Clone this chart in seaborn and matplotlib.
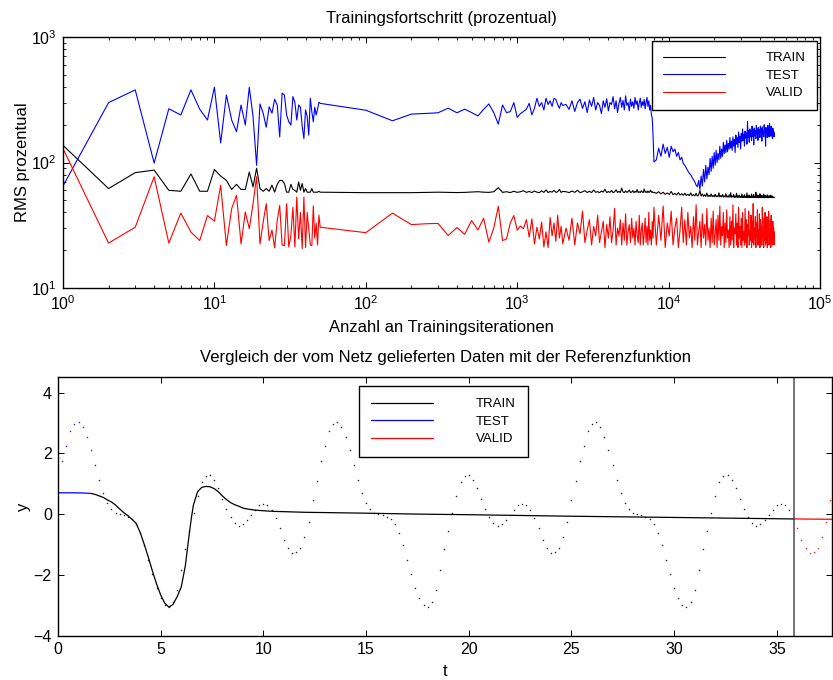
import numpy as np
import pandas as pd
import matplotlib
matplotlib.use("Agg")
import matplotlib.pyplot as plt
import seaborn as sns

# ---------------------------------------------------------------- data
# iteration counter of the logged RMS values
iter_single = list(range(1, 51))
iter_coarse = list(range(100, 2001, 50))
iter_mid = list(range(2100, 8001, 100))
iter_late = list(range(8300, 50001, 300))

train_rms = [
    137, 62, 83, 87, 60, 59, 81, 59, 59, 88,
    78, 72, 61, 67, 61, 61, 84, 64, 90, 62,
    59, 62, 59, 66, 58, 67, 72, 72, 68, 58,
    58, 67, 61, 60, 58, 70, 60, 68, 58, 62,
    58, 58, 58, 62, 58, 58, 58, 58, 59, 58,
    57.5, 57.5, 57.5, 57.8, 58, 57.8, 57.6, 57.8, 58.2, 58.5,
    58, 57.8, 58.5, 63, 57.8, 58.5, 57.6, 59, 57.8, 58.5,
    59.5, 57.8, 58.8, 57.6, 59.2, 58, 57.5, 59.5, 57.8, 60.5,
    57.6, 58.8, 58, 60, 57.8, 58.5, 61, 57.8, 58.8,
    58.5, 57.6, 59.2, 57.8, 60.1, 57.5, 58.4, 59.6, 57.7, 58.9,
    57.6, 60.4, 57.9, 58.6, 57.5, 59.3, 58.1, 61.2, 57.6, 58.7,
    57.8, 59.8, 57.5, 58.4, 60.6, 57.7, 58.9, 57.6, 62.5, 58.2,
    57.6, 59.4, 57.8, 58.6, 60.3, 57.6, 58.1, 59.7, 57.5, 58.8,
    58.0, 60.9, 57.7, 58.5, 57.6, 59.5, 58.2, 57.6, 61.5, 57.9,
    58.6, 57.6, 59.2, 57.8, 58.4, 60.2, 57.9, 58.6, 57.5, 57.9,
    56.8, 58.5, 56.2, 57.9, 55.8, 57.2, 55.6, 58.8, 55.4, 56.7,
    55.2, 57.5, 55.0, 56.4, 54.8, 56.9, 54.6, 55.8, 54.5, 57.2,
    54.3, 55.6, 54.2, 56.8, 54.0, 55.2, 59.8, 54.0, 56.1, 53.8,
    55.4, 53.7, 57.0, 53.6, 54.8, 53.5, 56.2, 53.5, 54.6, 53.4,
    55.9, 53.3, 54.4, 53.3, 57.3, 53.2, 54.5, 53.2, 55.6, 53.1,
    54.2, 53.1, 56.4, 53.0, 54.0, 53.0, 55.2, 52.9, 57.5, 52.9,
    54.1, 52.9, 55.7, 52.8, 53.9, 52.8, 56.8, 52.8, 54.2, 52.8,
    55.0, 52.7, 53.8, 52.7, 56.2, 52.7, 54.0, 52.7, 55.4, 52.7,
    53.6, 52.6, 57.2, 52.6, 54.3, 52.6, 55.0, 52.6, 53.7, 52.6,
    56.0, 52.6, 54.0, 52.6, 55.5, 52.5, 53.6, 52.5, 58.0, 52.5,
    54.2, 52.5, 55.1, 52.5, 53.5, 52.5, 56.3, 52.5, 53.9, 52.5,
    54.8, 52.5, 53.4, 52.5, 55.9, 52.5, 53.8, 52.5, 54.6, 52.5,
    53.3, 52.5, 55.2, 52.5, 53.7, 52.5, 54.4, 52.5, 53.2, 52.5,
    54.9, 52.5, 53.6, 52.5, 54.0, 52.5, 53.1, 52.5, 52.8, 52.5,
]

test_rms = [
    65, 300, 379, 99, 268, 239, 379, 266, 218, 398,
    143, 345, 218, 176, 287, 199, 398, 232, 95, 293,
    247, 191, 278, 247, 319, 287, 160, 357, 345, 239,
    211, 199, 335, 302, 218, 287, 276, 195, 155, 263,
    232, 165, 325, 254, 211, 276, 239, 266, 302, 296,
    261, 215, 243, 246, 249, 271, 249, 266, 250, 235,
    265, 293, 250, 202, 287, 250, 254, 300, 229, 245,
    255, 266, 296, 240, 270, 325, 280, 300, 262, 325,
    290, 310, 280, 325, 318, 290, 270, 300, 285,
    290, 265, 310, 255, 300, 320, 270, 305, 250, 315,
    280, 330, 262, 300, 285, 245, 310, 275, 322, 258,
    300, 290, 335, 268, 310, 250, 295, 330, 275, 312,
    262, 340, 285, 300, 258, 320, 280, 305, 270, 330,
    290, 310, 262, 300, 325, 275, 305, 285, 318, 268,
    300, 330, 280, 310, 262, 285, 240, 225, 160, 101,
    105, 130, 112, 140, 118, 132, 110, 135, 122, 128,
    112, 120, 105, 110, 98, 95, 90, 86, 82, 80,
    76, 73, 70, 66, 64, 72, 61, 78, 65, 88,
    70, 95, 74, 92, 80, 108, 85, 112, 90, 120,
    95, 125, 100, 118, 105, 135, 108, 128, 112, 145,
    118, 138, 120, 150, 122, 142, 128, 158, 130, 148,
    125, 160, 135, 152, 120, 165, 140, 158, 132, 175,
    145, 162, 128, 170, 148, 185, 150, 168, 135, 178,
    155, 172, 140, 212, 158, 180, 145, 185, 160, 178,
    150, 195, 162, 182, 138, 188, 165, 180, 155, 198,
    168, 185, 150, 190, 170, 182, 158, 195, 172, 186,
    148, 192, 168, 180, 160, 200, 175, 188, 135, 190,
    170, 185, 158, 198, 172, 182, 160, 205, 175, 186,
    162, 195, 170, 180, 155, 188, 168, 178, 160, 172,
]

valid_rms = [
    129, 22.8, 30.5, 77, 22.8, 39.5, 27.9, 23.9, 37.8, 34.1,
    65.8, 21.8, 42.9, 54.7, 22.4, 40.4, 29.7, 47, 77, 22.4,
    33.5, 47, 23.9, 28.9, 20.9, 34.5, 45.5, 22, 21.8, 47,
    21.2, 26.2, 44, 21.2, 53, 24.6, 40, 20.6, 53, 21,
    40, 29.7, 22, 21.8, 45, 25, 33, 22, 38, 30.5,
    27.6, 39.5, 32.0, 32.5, 32.7, 26.2, 30.3, 26.8, 34.5, 29.0,
    36.0, 23.2, 30.0, 44.7, 23.9, 24.6, 33.0, 37.8, 28.9, 31.2,
    29.7, 35.0, 25.4, 35.5, 22.4, 30.5, 24.6, 33.5, 21.2, 28.0,
    21.0, 36.5, 26.0, 33.0, 23.5, 38.0, 25.0, 31.0, 22.5,
    30, 24, 36, 22, 33, 27, 41, 23, 29, 35,
    22, 31, 26, 38, 23, 28, 34, 21, 32, 25,
    37, 23, 29, 43, 22, 30, 26, 35, 22, 33,
    24, 39, 22, 28, 32, 23, 36, 25, 30, 22,
    34, 26, 23, 38, 22, 29, 33, 22, 27, 36,
    23, 31, 22, 40, 24, 29, 22, 34, 25, 44,
    22, 38, 24, 45, 21, 33, 26, 41, 22, 30,
    36, 21, 29, 44, 23, 35, 22, 40, 25, 31,
    21, 37, 24, 46, 22, 28, 34, 21, 39, 25,
    32, 22, 43, 24, 30, 21, 36, 23, 41, 22,
    27, 35, 21, 38, 24, 45, 22, 31, 26, 40,
    21, 33, 23, 42, 25, 29, 21, 37, 22, 34,
    24, 46, 21, 30, 27, 39, 22, 33, 21, 44,
    25, 31, 22, 36, 21, 40, 24, 28, 22, 43,
    23, 35, 21, 32, 26, 41, 22, 29, 24, 38,
    21, 34, 23, 47, 22, 30, 25, 37, 21, 33,
    26, 42, 22, 29, 24, 39, 21, 35, 23, 31,
    22, 44, 25, 28, 21, 36, 24, 40, 22, 30,
    23, 37, 21, 33, 26, 41, 22, 29, 24, 35,
    21, 38, 23, 31, 22, 34, 25, 30, 22, 28,
]

# reference function, sampled every 0.2 in t
ref_step = 0.2
ref_y = [
    1.10, 1.75, 2.24, 2.73, 2.97, 3.02, 2.87, 2.53, 2.10, 1.62,
    1.12, 0.70, 0.38, 0.17, 0.05, 0.01, -0.04, -0.10, -0.17, -0.32,
    -0.62, -1.02, -1.50, -1.98, -2.42, -2.76, -2.98, -3.05, -2.90, -2.50,
    -1.85, -1.15, -0.55, 0.02, 0.58, 1.05, 1.25, 1.27, 1.13, 0.85,
    0.50, 0.18, -0.10, -0.28, -0.38, -0.33, -0.20, -0.03, 0.15, 0.30,
    0.34, 0.31, 0.12, -0.12, -0.47, -0.84, -1.10, -1.28, -1.26, -1.10,
    -0.74, -0.26, 0.45,
    1.10, 1.75, 2.24, 2.73, 2.97, 3.02, 2.87, 2.53, 2.10, 1.62,
    1.12, 0.70, 0.38, 0.17, 0.05, 0.01, -0.04, -0.10, -0.17, -0.32,
    -0.62, -1.02, -1.50, -1.98, -2.42, -2.76, -2.98, -3.05, -2.90, -2.50,
    -1.85, -1.15, -0.55, 0.02, 0.58, 1.05, 1.25, 1.27, 1.13, 0.85,
    0.50, 0.18, -0.10, -0.28, -0.38, -0.33, -0.20, -0.03, 0.15, 0.30,
    0.34, 0.31, 0.12, -0.12, -0.47, -0.84, -1.10, -1.28, -1.26, -1.10,
    -0.74, -0.26, 0.45,
    1.10, 1.75, 2.24, 2.73, 2.97, 3.02, 2.87, 2.53, 2.10, 1.62,
    1.12, 0.70, 0.38, 0.17, 0.05, 0.01, -0.04, -0.10, -0.17, -0.32,
    -0.62, -1.02, -1.50, -1.98, -2.42, -2.76, -2.98, -3.05, -2.90, -2.50,
    -1.85, -1.15, -0.55, 0.02, 0.58, 1.05, 1.25, 1.27, 1.13, 0.85,
    0.50, 0.18, -0.10, -0.28, -0.38, -0.33, -0.20, -0.03, 0.15, 0.30,
    0.34, 0.31, 0.12, -0.12, -0.47, -0.84, -1.10, -1.28, -1.26, -1.10,
    -0.74, -0.26, 0.45,
]

# network output
net_t = [0.0, 0.4, 0.8, 1.2, 1.6, 1.8, 2.0, 2.2, 2.4, 2.6, 2.8, 3.0, 3.2,
         3.4, 3.6, 3.8, 4.0, 4.2, 4.4, 4.6, 4.8, 5.0, 5.2, 5.4, 5.6, 5.8,
         6.0, 6.2, 6.4, 6.5, 6.6, 6.8, 7.0, 7.2, 7.4, 7.6, 7.8, 8.0, 8.2,
         8.4, 8.6, 8.8, 9.0, 9.2, 9.4, 9.6, 9.8, 10.0, 10.5, 11.0, 12.0,
         13.0, 15.0, 17.5, 20.0, 25.0, 30.0, 35.85, 37.7]
net_y = [0.70, 0.70, 0.70, 0.695, 0.68, 0.65, 0.60, 0.55, 0.47, 0.40, 0.30,
         0.17, 0.05, -0.05, -0.17, -0.30, -0.60, -1.00, -1.42, -1.88, -2.30,
         -2.66, -2.93, -3.06, -2.97, -2.72, -2.40, -1.70, -0.60, -0.10, 0.32,
         0.74, 0.88, 0.91, 0.90, 0.84, 0.74, 0.60, 0.48, 0.38, 0.31, 0.26,
         0.20, 0.17, 0.15, 0.13, 0.12, 0.11, 0.09, 0.08, 0.06, 0.05, 0.03,
         0.00, -0.02, -0.07, -0.11, -0.16, -0.17]

t_test_end = 1.6      # end of the test section
t_valid_start = 35.85  # start of the validation section
t_max = 37.7

labels = ["TRAIN", "TEST", "VALID"]
colors = ["black", "blue", "red"]

# ---------------------------------------------------------------- style
sns.set_theme(style="white")
plt.rcParams.update({
    "font.family": ["Liberation Sans", "DejaVu Sans"],
    "mathtext.fontset": "custom",
    "mathtext.rm": "Liberation Sans",
    "mathtext.it": "Liberation Sans",
    "font.size": 12,
    "axes.edgecolor": "black",
    "axes.linewidth": 1.0,
    "axes.labelcolor": "black",
    "text.color": "black",
    "xtick.color": "black",
    "ytick.color": "black",
    "xtick.direction": "in",
    "ytick.direction": "in",
    "xtick.top": True,
    "xtick.bottom": True,
    "ytick.left": True,
    "ytick.right": True,
    "xtick.major.size": 4,
    "ytick.major.size": 4,
    "xtick.minor.size": 2.3,
    "ytick.minor.size": 2.3,
    "xtick.major.width": 0.7,
    "ytick.major.width": 0.7,
    "xtick.minor.width": 0.6,
    "ytick.minor.width": 0.6,
    "xtick.major.pad": 4.5,
    "ytick.major.pad": 4.5,
    "xtick.labelsize": 11.5,
    "ytick.labelsize": 11.5,
    "axes.labelsize": 12,
    "axes.titlesize": 12,
})

fig = plt.figure(figsize=(8.33, 6.8), dpi=100)
ax1 = fig.add_axes([63 / 833, 1 - 288 / 680, 757 / 833, 251 / 680])
ax2 = fig.add_axes([58 / 833, 1 - 635.7 / 680, 774.3 / 833, 258.4 / 680])

legend_style = dict(borderaxespad=0, fontsize=9.5, frameon=True, fancybox=False,
                    edgecolor="black", framealpha=1, handlelength=4.7)

# ---------------------------------------------------------------- top panel
iters = np.array(iter_single + iter_coarse + iter_mid + iter_late)
progress = pd.DataFrame({"Iteration": np.tile(iters, 3),
                         "RMS": np.concatenate([train_rms, test_rms, valid_rms]),
                         "Satz": np.repeat(labels, len(iters))})
sns.lineplot(data=progress, x="Iteration", y="RMS", hue="Satz",
             palette=dict(zip(labels, colors)), estimator=None, sort=False,
             linewidth=0.8, ax=ax1)
ax1.set(xscale="log", yscale="log")
ax1.set_xlim(1, 1e5)
ax1.set_ylim(10, 1000)
ax1.set_title("Trainingsfortschritt (prozentual)", pad=10)
ax1.set_xlabel("Anzahl an Trainingsiterationen", labelpad=5)
ax1.set_ylabel("RMS prozentual", labelpad=1)
ax1.tick_params(which="both", top=True, right=True)
h, l = ax1.get_legend_handles_labels()
leg1 = ax1.legend(h, l, loc="upper right", bbox_to_anchor=(0.996, 0.984),
                  handletextpad=3.1, borderpad=0.83, labelspacing=0.4,
                  **legend_style)
leg1.get_frame().set_linewidth(1.0)

# ---------------------------------------------------------------- bottom panel
ref_t = np.arange(len(ref_y)) * ref_step
ref_y = np.array(ref_y)
net_t = np.array(net_t)
net_y = np.array(net_y)

sections = [
    ((net_t >= t_test_end) & (net_t <= t_valid_start),
     (ref_t > t_test_end) & (ref_t < t_valid_start)),
    (net_t <= t_test_end, ref_t <= t_test_end),
    (net_t >= t_valid_start, ref_t >= t_valid_start),
]
for (net_mask, ref_mask), lab, col in zip(sections, labels, colors):
    sns.scatterplot(x=ref_t[ref_mask], y=ref_y[ref_mask], color=col, s=1.2,
                    alpha=0.85, linewidth=0, marker="o", ax=ax2, legend=False)
    sns.lineplot(x=net_t[net_mask], y=net_y[net_mask], color=col,
                 linewidth=0.9, estimator=None, sort=False, label=lab, ax=ax2)

ax2.axvline(t_valid_start, color="0.3", linewidth=1.1)
ax2.set_xlim(0, t_max)
ax2.set_ylim(-4, 4.5)
ax2.set_xticks(range(0, 36, 5))
ax2.set_yticks([-4, -2, 0, 2, 4])
ax2.set_title("Vergleich der vom Netz gelieferten Daten mit der Referenzfunktion", pad=11)
ax2.set_xlabel("t", labelpad=5)
ax2.set_ylabel("y", labelpad=2)
ax2.tick_params(which="both", top=True, right=True)
h, l = ax2.get_legend_handles_labels()
order = [l.index(x) for x in labels]
leg2 = ax2.legend([h[i] for i in order], labels, loc="upper left",
                  bbox_to_anchor=(0.389, 0.966), handletextpad=3.25,
                  borderpad=0.9, labelspacing=0.4, **legend_style)
leg2.get_frame().set_linewidth(1.0)

fig.savefig("out.png", dpi=100)
